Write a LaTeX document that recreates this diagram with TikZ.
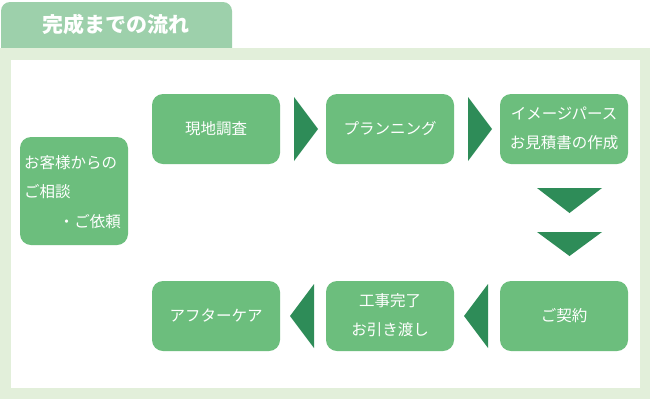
\documentclass[tikz,border=0pt]{standalone}
\usepackage{fontspec}
\setmainfont{Noto Sans CJK JP}
\definecolor{boxg}{RGB}{108,190,125}
\definecolor{arrg}{RGB}{46,140,88}
\definecolor{tabg}{RGB}{157,208,171}
\definecolor{frameg}{RGB}{226,239,218}
\begin{document}
\begin{tikzpicture}[x=1pt,y=-1pt,
  lbl/.style={text=white,font=\fontsize{15.5}{29}\selectfont,inner sep=0pt},
  boxfill/.style={fill=boxg,rounded corners=11pt},
  arrfill/.style={fill=arrg}]
\useasboundingbox (0,0) rectangle (650,400);
% tab (bottom part hidden by frame)
\fill[tabg,rounded corners=9pt] (1,2) rectangle (232,62);
% frame
\fill[frameg] (0,48) rectangle (650,399);
\fill[white] (11,60) rectangle (640,388);
\node[text=white,font=\fontsize{21}{21}\bfseries\selectfont] (title) at (116,24) {完成までの流れ};
% boxes
\fill[boxfill] (20,137) rectangle (128,245);
\node[lbl,align=left,anchor=north west] (cust) at (24,155) {お客様からの\\ご相談};
\node[lbl,anchor=east] (cust2) at (121,222) {・ご依頼};
\fill[boxfill] (152,94) rectangle (280,164);
\node[lbl] (b1) at (216,129) {現地調査};
\fill[boxfill] (326,94) rectangle (454,164);
\node[lbl] (b2) at (390,129) {プランニング};
\fill[boxfill] (500,94) rectangle (628,164);
\node[lbl,align=center] (b3) at (564,128) {イメージパース\\お見積書の作成};
\fill[boxfill] (500,281) rectangle (628,351);
\node[lbl] (b4) at (564,316) {ご契約};
\fill[boxfill] (326,281) rectangle (454,351);
\node[lbl,align=center] (b5) at (390,315) {工事完了\\お引き渡し};
\fill[boxfill] (152,281) rectangle (280,351);
\node[lbl] (b6) at (216,316) {アフターケア};
% arrows
\fill[arrfill] (294,97) -- (318,129) -- (294,161) -- cycle;
\fill[arrfill] (468,97) -- (492,129) -- (468,161) -- cycle;
\fill[arrfill] (537,188) -- (602,188) -- (569.5,213) -- cycle;
\fill[arrfill] (537,232) -- (602,232) -- (569.5,256) -- cycle;
\fill[arrfill] (488,284) -- (464,316) -- (488,348) -- cycle;
\fill[arrfill] (314,284) -- (290,316) -- (314,348) -- cycle;
\end{tikzpicture}
\end{document}
